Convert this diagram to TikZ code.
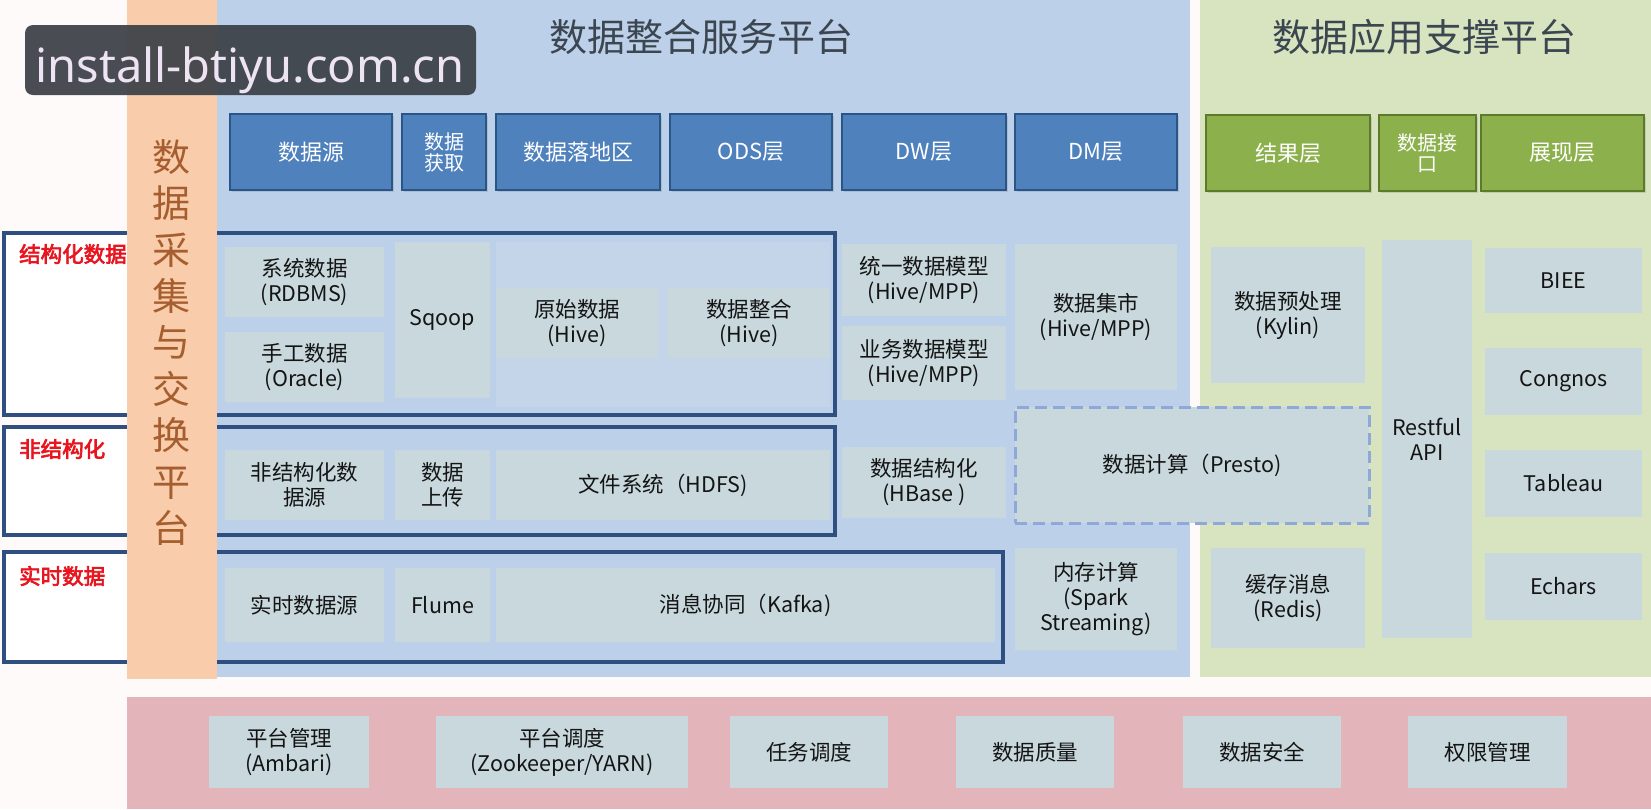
\documentclass[tikz,border=0pt]{standalone}
\usepackage{fontspec}
\setmainfont{Noto Sans CJK SC}
\newfontfamily\wmfont{Noto Sans}
\newfontfamily\labfont[BoldFont={Noto Sans CJK SC},BoldFeatures={FakeBold=3}]{Noto Sans CJK SC}
\usetikzlibrary{shadows}
\definecolor{pagebg}{HTML}{FDFAF9}
\definecolor{bluep}{HTML}{BDD0E9}
\definecolor{greenp}{HTML}{D8E4C0}
\definecolor{pinkp}{HTML}{E3B4B9}
\definecolor{orangep}{HTML}{F9CDAB}
\definecolor{boxc}{HTML}{C8D8DD}
\definecolor{odsc}{HTML}{C4D5EA}
\definecolor{hblue}{HTML}{4F81BD}
\definecolor{hblueD}{HTML}{2A5587}
\definecolor{hgreen}{HTML}{8CB04C}
\definecolor{hgreenD}{HTML}{5B7A2A}
\definecolor{navy}{HTML}{2E4F80}
\definecolor{labred}{HTML}{E8141E}
\definecolor{brownt}{HTML}{A65E2E}
\definecolor{titlec}{HTML}{3C4650}
\definecolor{txt}{HTML}{141414}
\definecolor{dashc}{HTML}{8FA8D8}
\definecolor{wmbg}{HTML}{3A3F45}
\definecolor{wmtext}{HTML}{EDE3F2}
\begin{document}
\begin{tikzpicture}[x=1pt,y=-1pt,
  lbox/.style={fill=boxc, inner sep=0pt, align=center, text=txt,
    font=\fontsize{21.5}{25}\selectfont},
  hbox/.style={fill=hblue, draw=hblueD, line width=2.5pt, text=white, inner sep=0pt,
    align=center, font=\fontsize{22}{23}\selectfont,
    drop shadow={opacity=0.25, shadow xshift=1.5pt, shadow yshift=-1.5pt}},
  gbox/.style={fill=hgreen, draw=hgreenD, line width=2.5pt, text=white, inner sep=0pt,
    align=center, font=\fontsize{22}{23}\selectfont,
    drop shadow={opacity=0.25, shadow xshift=1.5pt, shadow yshift=-1.5pt}},
  grp/.style={draw=navy, line width=4pt},
  lab/.style={text=labred, font=\labfont\bfseries\fontsize{21.5}{21.5}\selectfont,
    anchor=west, inner sep=0pt},
  ttl/.style={text=titlec, font=\fontsize{38}{38}\selectfont, inner sep=0pt}
]
\useasboundingbox (0,0) rectangle (1651,809);
\fill[pagebg] (0,0) rectangle (1651,809);
% panels
\fill[bluep] (217,0) rectangle (1190,677);
\fill[greenp] (1200,0) rectangle (1651,677);
\fill[pinkp] (127,697) rectangle (1651,809);
% left label areas
\fill[white] (4,233) rectangle (127,415);
\fill[white] (4,427) rectangle (127,535);
\fill[white] (4,552) rectangle (127,662);
\draw[grp] (4,233) rectangle (835,415);
\draw[grp] (4,427) rectangle (835,535);
\draw[grp] (4,552) rectangle (1003,662);
\node[lab] (l1) at (19,254) {结构化数据};
\node[lab] (l2) at (19,449) {非结构化};
\node[lab] (l3) at (19,576) {实时数据};
% orange column
\fill[orangep] (127,0) rectangle (217,679);
\node[text=brownt, font=\fontsize{38}{46.4}\selectfont, align=center, inner sep=0pt]
  (vt) at (171,342.5) {数\\据\\采\\集\\与\\交\\换\\平\\台};
% titles
\node[ttl] (t1) at (701,37) {数据整合服务平台};
\node[ttl] (t2) at (1424,37) {数据应用支撑平台};
% header boxes
\node[hbox, minimum width=162, minimum height=76] (h1) at (311,152) {数据源};
\node[hbox, minimum width=84, minimum height=76, font=\fontsize{20}{21}\selectfont] (h2) at (444,152) {数据\\获取};
\node[hbox, minimum width=164, minimum height=76] (h3) at (578,152) {数据落地区};
\node[hbox, minimum width=162, minimum height=76] (h4) at (751,152) {ODS层};
\node[hbox, minimum width=164, minimum height=76] (h5) at (924,152) {DW层};
\node[hbox, minimum width=162, minimum height=76] (h6) at (1096,152) {DM层};
\node[gbox, minimum width=164, minimum height=76] (g1) at (1288,153) {结果层};
\node[gbox, minimum width=97, minimum height=76, font=\fontsize{20}{21}\selectfont] (g2) at (1427.5,153) {数据接\\口};
\node[gbox, minimum width=163, minimum height=76] (g3) at (1562.5,153) {展现层};
% ODS region
\fill[odsc] (496,242) rectangle (830,407);
% structured row
\node[lbox, minimum width=159, minimum height=70] (sys) at (304.5,282) {系统数据\\(RDBMS)};
\node[lbox, minimum width=159, minimum height=70] (man) at (304.5,367) {手工数据\\(Oracle)};
\node[lbox, minimum width=95, minimum height=156] (sq) at (442.5,320) {Sqoop};
\node[lbox, minimum width=162, minimum height=70] (raw) at (577,323) {原始数据\\(Hive)};
\node[lbox, minimum width=162, minimum height=70] (int) at (749,323) {数据整合\\(Hive)};
% unstructured row
\node[lbox, minimum width=159, minimum height=70] (us) at (304.5,485) {非结构化数\\据源};
\node[lbox, minimum width=95, minimum height=70] (up) at (442.5,485) {数据\\上传};
\node[lbox, minimum width=334, minimum height=70] (hd) at (663,485) {文件系统（HDFS)};
% realtime row
\node[lbox, minimum width=159, minimum height=74] (rs) at (304.5,605) {实时数据源};
\node[lbox, minimum width=95, minimum height=74] (fl) at (442.5,605) {Flume};
\node[lbox, minimum width=499, minimum height=74] (kf) at (745.5,605) {消息协同（Kafka)};
% DW column
\node[lbox, minimum width=164, minimum height=72] (um) at (924,280) {统一数据模型\\(Hive/MPP)};
\node[lbox, minimum width=164, minimum height=74] (bm) at (924,363) {业务数据模型\\(Hive/MPP)};
\node[lbox, minimum width=164, minimum height=71] (hb) at (924,482.5) {数据结构化\\(HBase )};
% DM column
\node[lbox, minimum width=162, minimum height=146] (mt) at (1096,317) {数据集市\\(Hive/MPP)};
\node[lbox, minimum width=354, minimum height=116, draw=dashc, line width=3pt,
  dash pattern=on 12pt off 6pt] (pr) at (1192,465) {数据计算（Presto)};
\node[lbox, minimum width=162, minimum height=102] (mem) at (1096,599) {内存计算\\(Spark\\Streaming)};
% application platform
\node[lbox, minimum width=154, minimum height=136] (kp) at (1288,315) {数据预处理\\(Kylin)};
\node[lbox, minimum width=154, minimum height=100] (rd) at (1288,598) {缓存消息\\(Redis)};
\node[lbox, minimum width=90, minimum height=398] (ra) at (1427,439) {Restful\\API};
\node[lbox, minimum width=157, minimum height=65] (bi) at (1563.5,280.5) {BIEE};
\node[lbox, minimum width=157, minimum height=67] (cg) at (1563.5,381.5) {Congnos};
\node[lbox, minimum width=157, minimum height=67] (tb) at (1563.5,483.5) {Tableau};
\node[lbox, minimum width=157, minimum height=67] (ec) at (1563.5,586.5) {Echars};
% bottom management
\node[lbox, minimum width=160, minimum height=72] (pm) at (289,752) {平台管理\\(Ambari)};
\node[lbox, minimum width=252, minimum height=72] (ps) at (562,752) {平台调度\\(Zookeeper/YARN)};
\node[lbox, minimum width=158, minimum height=72] (ts) at (809,752) {任务调度};
\node[lbox, minimum width=158, minimum height=72] (dq) at (1035,752) {数据质量};
\node[lbox, minimum width=158, minimum height=72] (dsf) at (1262,752) {数据安全};
\node[lbox, minimum width=159, minimum height=72] (pmg) at (1487.5,752) {权限管理};
% watermark
\fill[wmbg, opacity=0.92, rounded corners=8pt] (25,25) rectangle (476,95);
\node[text=wmtext, font=\wmfont\fontsize{47}{47}\selectfont, anchor=base, inner sep=0pt]
  (wm) at (250,82) {install-btiyu.com.cn};
\end{tikzpicture}
\end{document}
